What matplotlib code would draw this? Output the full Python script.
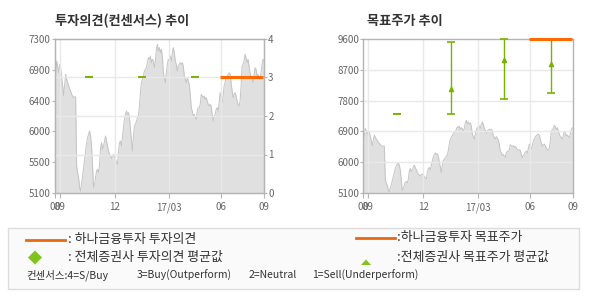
import numpy as np
import matplotlib
matplotlib.use('Agg')
import matplotlib.pyplot as plt
from matplotlib.patches import Rectangle, Polygon

plt.rcParams['font.family'] = ['Noto Sans CJK KR', 'DejaVu Sans']

# daily close (Aug 2016 -> Sep 2017)
price = [
    6629, 6772, 6986, 6914, 6819, 6938, 6891, 6748, 6629, 6486,
    6653, 6795, 6724, 6676, 6629, 6591, 6557, 6510, 6486, 6462,
    6472, 6476, 5486, 5391, 5319, 5176, 5129, 5248, 5343, 5462,
    5581, 5700, 5819, 5891, 5938, 5986, 5914, 5772, 5486, 5176,
    5224, 5319, 5414, 5438, 5391, 5510, 5748, 5819, 5724, 5772,
    5843, 5914, 5843, 5772, 5700, 5653, 5629, 5591, 5629, 5653,
    5629, 5581, 5543, 5510, 5700, 5819, 5843, 5772, 5914, 6034,
    6153, 6224, 6272,
    6224, 6248, 6176, 6010, 5867, 5700, 5914, 6057, 6081, 6129,
    6176, 6200, 6343, 6533, 6676, 6724, 6772, 6843, 6867, 6891,
    6962, 7033, 7010, 7057, 6962, 7010, 6986, 6891, 6986, 7153,
    7224, 7129, 7176, 7105, 7153, 7057, 6819, 6748, 6676, 6819,
    6938, 7010, 6986, 7057, 6986, 7105, 7176, 7105, 6986, 6938,
    6843, 6915, 6938, 6962, 6938, 6962, 6915, 6772, 6724, 6676,
    6748, 6700, 6653, 6510, 6319, 6272, 6200, 6224, 6176, 6153,
    6272, 6319,
    6319, 6367, 6510, 6486, 6462, 6486, 6438, 6462, 6414, 6367,
    6343, 6367, 6343, 6224, 6129, 6200, 6224, 6295, 6319, 6272,
    6391, 6533, 6462, 6391, 6486, 6629, 6676, 6748, 6772, 6795,
    6819, 6795, 6676, 6557, 6462, 6510, 6533, 6486, 6414, 6367,
    6343, 6414, 6629, 6915, 6938, 6986, 7081, 7033, 6962, 7010,
    6915, 6819, 6748, 6724, 6676, 6772, 6891, 6867, 6772, 6795,
    6748, 6724, 6819, 6938, 7010, 7000,
]
x = np.arange(len(price))

# month labels and the trading-day index where they sit
tick_idx = [0, 5, 60, 115, 167, 210]
tick_labels = ['08', '09', '12', '17/03', '06', '09']

left_price_labels = ['5100', '5500', '6000', '6400', '6900', '7300']
opinion_ticks = [0, 1, 2, 3, 4]
target_ticks = [5100, 6000, 6900, 7800, 8700, 9600]

# street consensus (전체증권사)
cons_idx = [34, 88, 141, 188]
cons_opinion = [3, 3, 3, 3]
cons_target_avg = [7400, 8150, 8990, 8880]
cons_target_min = [7400, 7400, 7840, 8010]
cons_target_max = [7400, 9500, 9600, 9600]

# 하나금융투자 own call
hana_idx = [166, 209]
hana_opinion = [3, 3]
hana_target = [9600, 9600]

GRAY_FILL = '#e0e0e0'
GRAY_LINE = '#c4c4c4'
GRID = '#e9e9e9'
SPINE = '#b4b4b4'
TXT = '#666666'
ORANGE = '#ff6a00'
GREEN = '#76b400'

fig = plt.figure(figsize=(5.9, 3.0), dpi=100)
fig.patch.set_facecolor('white')


def style_axes(ax):
    for s in ax.spines.values():
        s.set_color(SPINE)
        s.set_linewidth(1)
    ax.tick_params(colors=SPINE, labelcolor=TXT, labelsize=7, width=0.8)
    ax.tick_params(axis='y', length=2, pad=1)
    ax.tick_params(axis='x', length=3.5, pad=3)
    ax.set_xlim(0, len(price) - 1)
    ax.set_xticks(tick_idx)
    ax.set_xticklabels(tick_labels)


def draw_price(ax, bottom):
    ax.fill_between(x, price, bottom, color=GRAY_FILL, lw=0, zorder=1)
    ax.plot(x, price, color=GRAY_LINE, lw=0.7, zorder=1.5)
    for t in tick_idx[1:-1]:
        ax.axvline(t, color=GRID, lw=1, zorder=2)


# ---- left: 투자의견 ----
ax1 = fig.add_axes([54.7 / 590, 107 / 300, 209.3 / 590, 154 / 300])
style_axes(ax1)
draw_price(ax1, 5100)
ax1.set_ylim(5100, 7300)
ax1.set_yticks(np.linspace(5100, 7300, len(left_price_labels)))
ax1.set_yticklabels(left_price_labels)

ax1r = ax1.twinx()
ax1r.set_ylim(0, 4)
ax1r.set_yticks(opinion_ticks)
for s in ax1r.spines.values():
    s.set_color(SPINE)
ax1r.tick_params(colors=SPINE, labelcolor=TXT, labelsize=7, length=2, pad=1, width=0.8)
for v in opinion_ticks[1:-1]:
    ax1r.axhline(v, color=GRID, lw=1, zorder=2)
ax1r.errorbar(cons_idx, cons_opinion, yerr=0, fmt='none', ecolor=GREEN,
              capsize=3.2, capthick=1.2, elinewidth=0, zorder=4)
ax1r.plot(hana_idx, hana_opinion, color=ORANGE, lw=2.2, solid_capstyle='butt', zorder=5)

# ---- right: 목표주가 ----
ax2 = fig.add_axes([363.3 / 590, 107 / 300, 210 / 590, 154 / 300])
style_axes(ax2)
draw_price(ax2, 5100)
ax2.set_ylim(5100, 9600)
ax2.set_yticks(target_ticks)
for v in target_ticks[1:-1]:
    ax2.axhline(v, color=GRID, lw=1, zorder=2)
avg = np.array(cons_target_avg)
lo = avg - np.array(cons_target_min)
hi = np.array(cons_target_max) - avg
eb2 = ax2.errorbar(cons_idx, cons_target_avg, yerr=[lo, hi], fmt='none',
                   ecolor=GREEN, elinewidth=1, capsize=3.2, capthick=1.2, zorder=4)
for art in eb2.get_children():
    art.set_clip_on(False)
# average marker only where the range is not a single value
spread = (lo + hi) > 0
ax2.plot(np.array(cons_idx)[spread], avg[spread], '^', ms=3, color=GREEN, zorder=4)
ax2.plot(hana_idx, hana_target, color=ORANGE, lw=2.2, solid_capstyle='butt',
         clip_on=False, zorder=5)

# titles
fig.text(55 / 590, 1 - 21 / 300, '투자의견(컨센서스) 추이', fontsize=9.5,
         fontweight='bold', color='#333333', va='center')
fig.text(367 / 590, 1 - 21 / 300, '목표주가 추이', fontsize=9.5,
         fontweight='bold', color='#333333', va='center')

# ---- legend box (pixel coordinates) ----
lg = fig.add_axes([0, 0, 1, 1])
lg.set_xlim(0, 590)
lg.set_ylim(300, 0)
lg.axis('off')
lg.add_patch(Rectangle((8, 228), 571, 61, facecolor='#fafafa', edgecolor='#dcdcdc', lw=1))
lg.plot([26, 65], [239.5, 239.5], color='#e8690f', lw=2)
lg.plot([356, 395], [238, 238], color='#e8690f', lw=2)
lg.add_patch(Polygon([(35, 250.5), (42, 257.5), (35, 264.5), (28, 257.5)], closed=True,
                     facecolor='#7fc31c', edgecolor='none'))
lg.add_patch(Polygon([(361, 265), (371, 265), (366, 259.5)], closed=True,
                     facecolor='#7fc31c', edgecolor='none'))
kw = dict(fontsize=9.3, color='#333333', va='center')
lg.text(68, 239, ': 하나금융투자 투자의견', **kw)
lg.text(68, 257, ': 전체증권사 투자의견 평균값', **kw)
lg.text(397, 238, ':하나금융투자 목표주가', **kw)
lg.text(397, 257, ':전체증권사 목표주가 평균값', **kw)
kw3 = dict(fontsize=7.5, color='#333333', va='center')
lg.text(26, 275, '컨센서스:4=S/Buy', **kw3)
lg.text(137, 275, '3=Buy(Outperform)', **kw3)
lg.text(249, 275, '2=Neutral', **kw3)
lg.text(312, 275, '1=Sell(Underperform)', **kw3)

fig.savefig('out.png', dpi=100)
